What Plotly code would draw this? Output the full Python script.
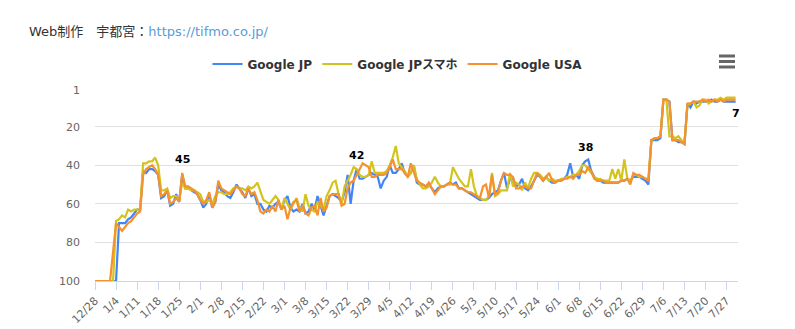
import pandas as pd
import plotly.graph_objects as go

# ---- categories (daily, 5/31 missing in source data) ----
_days = pd.date_range("2020-12-28", "2021-07-30", freq="D")
_days = [d for d in _days if not (d.month == 5 and d.day == 31)]
dates = [f"{d.month}/{d.day}" for d in _days]

# ---- series values (ranking) ----
google_jp = [
    100, 100, 100, 100, 100, 100, 100,
    100, 70, 70, 70, 68, 67, 65,
    63, 63, 43, 44, 42, 42, 43,
    45, 57, 56, 53, 61, 60, 55,
    59, 45, 52, 52, 53, 54, 55,
    58, 62, 60, 55, 62, 59, 50,
    53, 54, 56, 57, 54, 50, 52,
    54, 57, 52, 56, 55, 60, 60,
    63, 64, 61, 62, 60, 59, 63,
    58, 56, 62, 64, 63, 64, 60,
    65, 64, 60, 63, 56, 61, 66,
    61, 56, 55, 56, 57, 59, 54,
    45, 60, 48, 42, 47, 47, 46,
    45, 44, 45, 46, 52, 48, 46,
    40, 44, 44, 42, 39, 44, 46,
    44, 40, 49, 50, 50, 51, 50,
    52, 54, 52, 51, 51, 50, 49,
    50, 49, 52, 52, 53, 54, 55,
    56, 57, 58, 58, 58, 57, 55,
    54, 53, 48, 44, 52, 47, 47,
    51, 50, 47, 52, 53, 51, 48,
    45, 46, 48, 46, 48, 49, 49,
    48, 48, 47, 45, 39, 46, 45,
    47, 40, 38, 37, 43, 46, 48,
    48, 49, 49, 49, 49, 49, 49,
    48, 48, 47, 48, 46, 46, 46,
    47, 48, 50, 27, 27, 27, 26,
    6, 6, 7, 27, 27, 28, 28,
    29, 8, 10, 7, 8, 7, 7,
    7, 7, 6, 7, 7, 6, 7,
    7, 7, 7, 7,
]

google_jp_sp = [
    100, 100, 100, 100, 100, 100, 100,
    69, 68, 66, 67, 63, 64, 63,
    63, 63, 39, 39, 38, 38, 36,
    40, 53, 53, 52, 57, 56, 56,
    58, 49, 52, 52, 53, 53, 54,
    55, 59, 59, 58, 60, 56, 54,
    54, 55, 55, 54, 52, 51, 52,
    52, 53, 51, 52, 51, 49, 54,
    58, 59, 60, 58, 56, 58, 63,
    57, 60, 63, 60, 57, 62, 64,
    55, 61, 63, 64, 59, 61, 63,
    56, 53, 49, 48, 55, 60, 51,
    48, 45, 41, 42, 45, 46, 46,
    45, 38, 44, 44, 44, 44, 43,
    40, 36, 30, 39, 41, 43, 46,
    44, 40, 47, 50, 52, 52, 51,
    49, 46, 49, 51, 51, 50, 50,
    41, 44, 47, 49, 51, 51, 42,
    51, 56, 57, 58, 58, 56, 44,
    56, 55, 53, 53, 53, 44, 51,
    49, 50, 53, 49, 52, 47, 44,
    44, 45, 47, 46, 48, 47, 48,
    48, 47, 47, 46, 46, 45, 45,
    43, 40, 40, 42, 44, 46, 47,
    47, 48, 48, 48, 42, 47, 42,
    48, 37, 47, 48, 45, 45, 46,
    46, 47, 47, 27, 26, 26, 25,
    6, 6, 25, 25, 26, 25, 27,
    28, 9, 8, 7, 10, 9, 6,
    6, 8, 7, 6, 6, 5, 6,
    5, 5, 5, 5,
]

google_usa = [
    100, 100, 100, 100, 100, 100, 85,
    70, 72, 74, 72, 70, 69, 67,
    65, 64, 45, 42, 41, 40, 42,
    45, 56, 55, 53, 60, 59, 57,
    59, 44, 51, 51, 52, 53, 55,
    58, 60, 58, 54, 62, 59, 48,
    52, 53, 54, 55, 53, 51, 52,
    55, 56, 52, 55, 54, 58, 64,
    65, 63, 64, 61, 64, 58, 63,
    61, 68, 62, 59, 58, 64, 61,
    65, 66, 62, 61, 66, 57, 64,
    62, 56, 55, 55, 55, 61, 60,
    52, 49, 48, 45, 42, 39, 40,
    41, 46, 46, 45, 45, 45, 44,
    41, 37, 42, 42, 42, 44, 46,
    39, 44, 48, 49, 50, 51, 49,
    52, 55, 53, 51, 51, 50, 49,
    50, 50, 52, 52, 53, 54, 54,
    55, 56, 57, 51, 50, 57, 45,
    55, 54, 48, 44, 45, 45, 46,
    52, 52, 51, 51, 52, 52, 48,
    44, 46, 48, 46, 44, 48, 49,
    48, 48, 47, 47, 46, 47, 45,
    45, 43, 44, 41, 43, 47, 48,
    48, 48, 49, 49, 49, 49, 49,
    48, 48, 47, 50, 44, 45, 45,
    46, 47, 48, 27, 26, 26, 25,
    6, 6, 7, 27, 27, 27, 28,
    29, 8, 8, 7, 7, 7, 6,
    7, 6, 7, 6, 7, 6, 7,
    6, 6, 6, 6,
]

series_names = ["Google JP", "Google JPスマホ", "Google USA"]
series_colors = ["#4285F4", "#D2C41C", "#F5922F"]

# data labels (index into dates, value shown)
label_idx = [29, 87, 163, 213]
label_vals = [45, 42, 38, 7]
label_shift = [15, 14, 14, -12]

y_ticks = [1, 20, 40, 60, 80, 100]
x_ticks = dates[::7]

FONT = "DejaVu Sans, Noto Sans CJK JP, sans-serif"

fig = go.Figure()
for name, vals, col in zip(series_names, [google_jp, google_jp_sp, google_usa], series_colors):
    fig.add_trace(go.Scatter(x=dates, y=vals, mode="lines", name=name,
                             line=dict(color=col, width=2.2)))

anns = []
for i, v, s in zip(label_idx, label_vals, label_shift):
    anns.append(dict(x=dates[i], y=v, xref="x", yref="y", text=str(v), showarrow=False,
                     yshift=s, font=dict(family=FONT, size=11, color="#000000", weight="bold")))

# header text
anns.append(dict(xref="paper", yref="paper", x=(27 - 95) / 643, y=(281 - 31) / 191,
                 xanchor="left", yanchor="middle", showarrow=False,
                 text="Web制作　宇都宮：<span style='color:#5A9BD8'>https://tifmo.co.jp/</span>",
                 font=dict(family=FONT, size=13, color="#333333")))

shapes = []
for py in [56, 61.5, 67]:
    shapes.append(dict(type="line", xref="paper", yref="paper",
                       x0=(719 - 95) / 643, x1=(735 - 95) / 643,
                       y0=(281 - py) / 191, y1=(281 - py) / 191,
                       line=dict(color="#666666", width=3)))

fig.update_layout(
    width=795, height=329,
    margin=dict(l=95, r=57, t=90, b=48, autoexpand=False),
    paper_bgcolor="white", plot_bgcolor="white",
    font=dict(family=FONT, color="#666666"),
    showlegend=True,
    legend=dict(orientation="h", x=(397.5 - 95) / 643, xanchor="center",
                y=(281 - 64) / 191, yanchor="middle",
                font=dict(family=FONT, size=12, color="#333333", weight="bold"),
                bgcolor="rgba(0,0,0,0)"),
    annotations=anns,
    shapes=shapes,
    hovermode=False,
)
fig.update_xaxes(type="category", range=[0, 213.8], tickmode="array",
                 tickvals=x_ticks, ticktext=x_ticks, tickangle=-45, automargin=False,
                 showgrid=False, showline=True, linecolor="#ccd6eb", linewidth=1,
                 ticks="outside", ticklen=8, tickcolor="#ccd6eb",
                 tickfont=dict(family=FONT, size=11, color="#666666"))
fig.update_yaxes(range=[100, 1], tickmode="array", tickvals=y_ticks, automargin=False,
                 showgrid=True, gridcolor="#e0e0e0", gridwidth=1, zeroline=False,
                 showline=False, ticks="", ticklabelstandoff=14,
                 tickfont=dict(family=FONT, size=11, color="#666666"))

fig.write_html("out.html")
